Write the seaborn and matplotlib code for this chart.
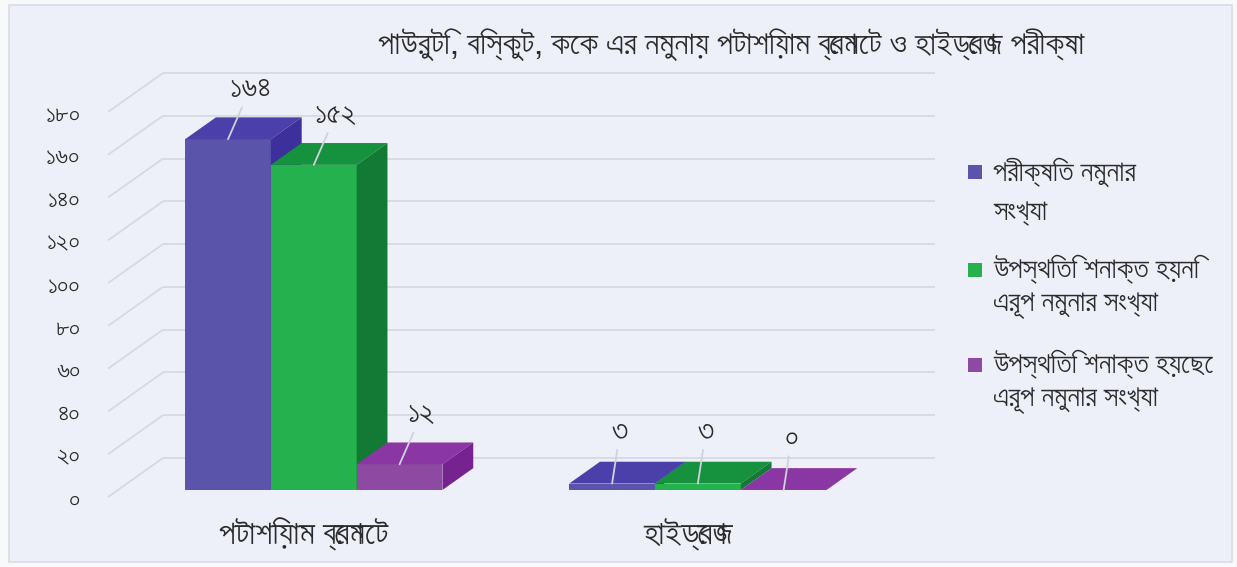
import matplotlib
matplotlib.use("Agg")
import matplotlib.pyplot as plt
from matplotlib import font_manager
from matplotlib.patches import Polygon, Rectangle
from matplotlib.text import Text
import pandas as pd
import seaborn as sns

# ---- data -------------------------------------------------------------
title = "পাউরুটি, বিস্কুট, কেক এর নমুনায় পটাশিয়াম ব্রোমেট ও হাইড্রোজ পরীক্ষা"
tests = ["পটাশিয়াম ব্রোমেট", "হাইড্রোজ"]
series = [
    "পরীক্ষিত নমুনার\nসংখ্যা",
    "উপস্থিতি শনাক্ত হয়নি\nএরূপ নমুনার সংখ্যা",
    "উপস্থিতি শনাক্ত হয়েছে\nএরূপ নমুনার সংখ্যা",
]
tested = [164, 3]
not_detected = [152, 3]
detected = [12, 0]
value_labels = [["১৬৪", "৩"], ["১৫২", "৩"], ["১২", "০"]]
y_ticks = [0, 20, 40, 60, 80, 100, 120, 140, 160, 180]
y_tick_labels = ["০", "২০", "৪০", "৬০", "৮০", "১০০", "১২০", "১৪০", "১৬০", "১৮০"]

front_colors = ["#5a55aa", "#25b24e", "#8e49a2"]
top_colors = ["#4b40aa", "#16913e", "#8a36a3"]
side_colors = ["#3d2f9c", "#127a34", "#77238f"]


def bengali_family(sample):
    """Pick the most compact installed font that covers the Bengali sample."""
    try:
        from fontTools.ttLib import TTFont
    except Exception:
        return None
    best = None
    for path in font_manager.findSystemFonts():
        try:
            tt = TTFont(path, fontNumber=0, lazy=True)
            cmap = tt.getBestCmap() or {}
            chars = [c for c in sample if not c.isspace() and c not in ","]
            if not all(ord(c) in cmap for c in chars):
                continue
            upm = tt["head"].unitsPerEm
            hmtx = tt["hmtx"]
            width = sum(hmtx[cmap[ord(c)]][0] for c in chars) / upm
            if best is None or width < best[0]:
                best = (width, path)
        except Exception:
            continue
    if best is None:
        return None
    font_manager.fontManager.addfont(best[1])
    return font_manager.FontProperties(fname=best[1]).get_name()


sns.set_theme(style="white")
fam = bengali_family(title + "".join(series) + "".join(y_tick_labels))
plt.rcParams["font.family"] = ([fam] if fam else []) + ["Noto Sans", "DejaVu Sans"]

bg = "#edf0f8"
text_color = "#2b2b2b"

df = pd.DataFrame({
    "test": tests * 3,
    "series": [s for s in series for _ in tests],
    "count": tested + not_detected + detected,
})

W, H, DPI = 1237, 567, 100
fig = plt.figure(figsize=(W / DPI, H / DPI), dpi=DPI, facecolor="#f8f9fb")

# chart panel (behind everything)
fig.patches.append(Rectangle((9 / W, 1 - 562 / H), 1223 / W, 557 / H,
                             transform=fig.transFigure, facecolor=bg,
                             edgecolor="#d9dce4", lw=1.2, zorder=-10))

# front plane of the plot box in pixels
left_px, right_px, bottom_px, top_px = 108, 880, 497, 112
ax = fig.add_axes([left_px / W, (H - bottom_px) / H,
                   (right_px - left_px) / W, (bottom_px - top_px) / H])
ax.set_facecolor("none")
ax.set_zorder(1)

sns.barplot(data=df, x="test", y="count", hue="series", order=tests,
            hue_order=series, palette=front_colors, width=0.67,
            saturation=1, ax=ax, legend=False, linewidth=0,
            err_kws={"linewidth": 0})

xmin, xmax = -0.51, 1.50
ymin, ymax = 0, 180
ax.set_xlim(xmin, xmax)
ax.set_ylim(ymin, ymax)

# depth of the floor / back wall in data units
px_per_x = (right_px - left_px) / (xmax - xmin)
px_per_y = (bottom_px - top_px) / (ymax - ymin)
DX = 55 / px_per_x
DY = 39 / px_per_y
f0, f1 = 0.18, 0.74          # bar front / back depth fractions
d = f1 - f0

# back-wall gridlines with slanted lead-ins on the left
grid_color = "#d6d9e2"
for v in y_ticks:
    ax.plot([xmin, xmin + DX], [v, v + DY], color=grid_color, lw=1.3,
            clip_on=False, zorder=1, solid_capstyle="butt")
    ax.plot([xmin + DX, xmax + DX], [v + DY, v + DY], color=grid_color,
            lw=1.3, clip_on=False, zorder=1, solid_capstyle="butt")

# extrude each bar into a box: shifted front face, top face and side face
value_texts = []
for k, (cont, labels) in enumerate(zip(ax.containers, value_labels)):
    for j, (p, lab) in enumerate(zip(cont.patches, labels)):
        x0, w, h = p.get_x(), p.get_width(), p.get_height()
        fx, fy = x0 + f0 * DX, f0 * DY
        p.set_x(fx)
        p.set_y(fy)
        p.set_zorder(3 + k * 0.1)
        p.set_clip_on(False)
        ax.add_patch(Polygon([(fx, fy + h), (fx + w, fy + h),
                              (fx + w + d * DX, fy + h + d * DY),
                              (fx + d * DX, fy + h + d * DY)],
                             closed=True, facecolor=top_colors[k],
                             edgecolor="none", zorder=3 + k * 0.1,
                             clip_on=False))
        ax.add_patch(Polygon([(fx + w, fy), (fx + w + d * DX, fy + d * DY),
                              (fx + w + d * DX, fy + h + d * DY),
                              (fx + w, fy + h)],
                             closed=True, facecolor=side_colors[k],
                             edgecolor="none", zorder=3 + k * 0.1,
                             clip_on=False))
        xc = fx + w / 2
        off = (22, 50) if j == 0 else (8, 52)
        t = ax.annotate(lab, xy=(xc, fy + h), xytext=off,
                        textcoords="offset pixels", ha="center", va="center",
                        fontsize=14, color=text_color, zorder=10,
                        arrowprops=dict(arrowstyle="-", color="#cfd2de",
                                        lw=1.3, shrinkA=0, shrinkB=0))
        value_texts.append(t)

# axes cosmetics
for s in ax.spines.values():
    s.set_visible(False)
ax.set_xlabel("")
ax.set_ylabel("")
ax.set_yticks(y_ticks, y_tick_labels)
ax.tick_params(axis="y", length=0, pad=20, labelsize=13, labelcolor=text_color)
ax.set_xticks([0, 1], tests)
ax.tick_params(axis="x", length=0, pad=15, labelsize=14, labelcolor=text_color)
ax.grid(False)

title_text = fig.text(731 / W, 1 - 45 / H, title, ha="center", va="center",
                      fontsize=15, color=text_color)

# legend: swatch plus two wrapped lines per series
legend_rows = [(172, 212), (270, 305), (365, 400)]
legend_texts = []
for c, lab, rows in zip(front_colors, series, legend_rows):
    fig.patches.append(Rectangle((968 / W, 1 - (rows[0] + 7) / H), 14 / W,
                                 14 / H, transform=fig.transFigure,
                                 facecolor=c, edgecolor="none", zorder=3))
    for line, y in zip(lab.split("\n"), rows):
        legend_texts.append(fig.text(993 / W, 1 - y / H, line, ha="left",
                                     va="center", fontsize=14,
                                     color=text_color))


# size every text group so that it occupies its intended width
def fit(texts, target_px, max_size):
    fig.canvas.draw()
    r = fig.canvas.get_renderer()
    widest = max(Text.get_window_extent(t, r).width for t in texts)
    size = min(max_size, texts[0].get_fontsize() * target_px / widest)
    for t in texts:
        t.set_fontsize(size)


fit([title_text], 707, 26)
fit(legend_texts, 220, 26)
fit(value_texts[:1], 42, 24)
for t in value_texts[1:]:
    t.set_fontsize(value_texts[0].get_fontsize())
fit(list(ax.get_xticklabels())[:1], 175, 24)
ax.tick_params(axis="x", labelsize=ax.get_xticklabels()[0].get_fontsize())
fit(list(ax.get_yticklabels())[-1:], 35, 22)
ax.tick_params(axis="y", labelsize=ax.get_yticklabels()[-1].get_fontsize())

fig.savefig("out.png", dpi=DPI, facecolor="#f8f9fb")
